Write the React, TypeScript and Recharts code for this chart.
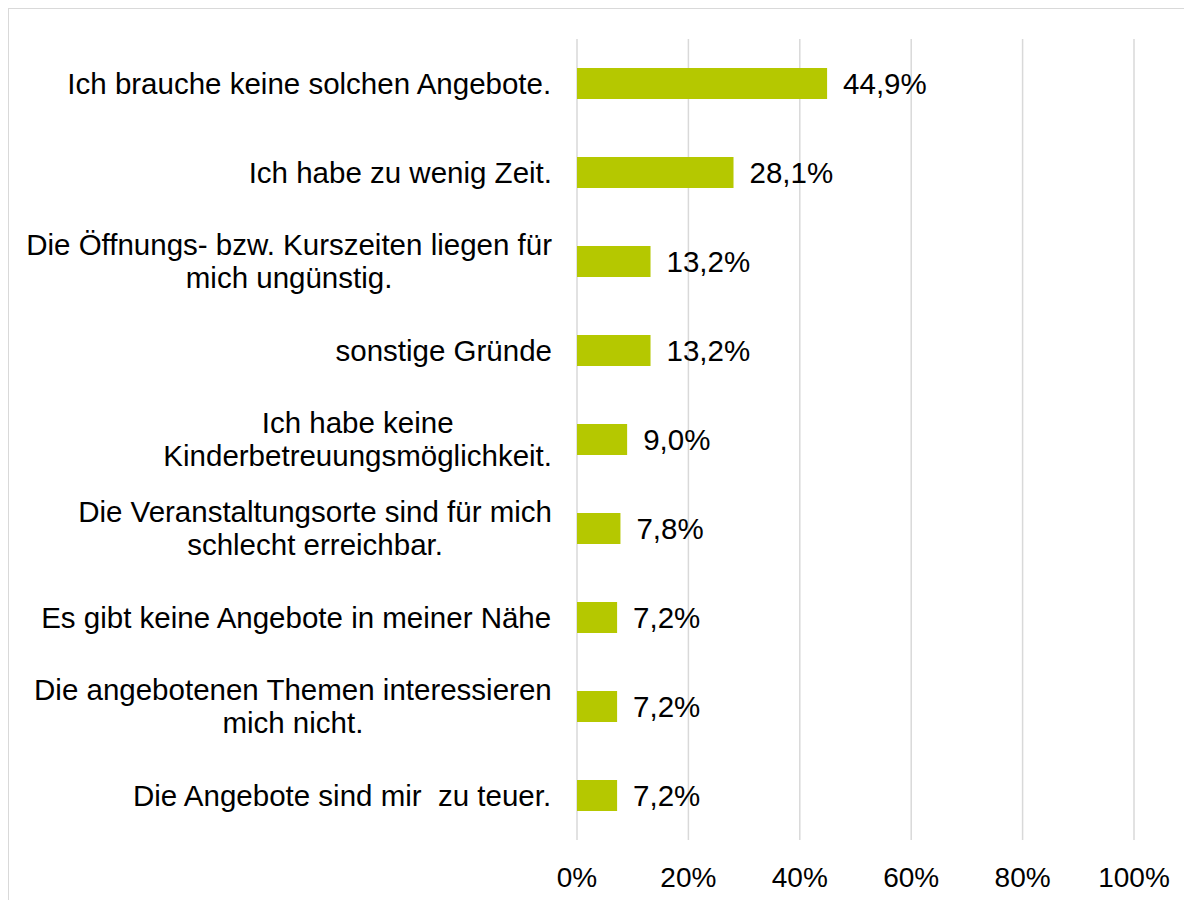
import { BarChart, Bar, XAxis, YAxis, CartesianGrid, LabelList } from "recharts"

const categories = [
  "Ich brauche keine solchen Angebote.",
  "Ich habe zu wenig Zeit.",
  "Die Öffnungs- bzw. Kurszeiten liegen für\nmich ungünstig.",
  "sonstige Gründe",
  "Ich habe keine\nKinderbetreuungsmöglichkeit.",
  "Die Veranstaltungsorte sind für mich\nschlecht erreichbar.",
  "Es gibt keine Angebote in meiner Nähe",
  "Die angebotenen Themen interessieren\nmich nicht.",
  "Die Angebote sind mir  zu teuer.",
]

const shares = [44.9, 28.1, 13.2, 13.2, 9.0, 7.8, 7.2, 7.2, 7.2]

const xTicks = [0, 20, 40, 60, 80, 100]

const FONT = "'Liberation Sans', Arial, sans-serif"
const LABEL_SIZE = 29.5
const TICK_SIZE = 28
const LINE_HEIGHT = 33

const data = categories.map((name, i) => ({ name, value: shares[i] }))

let ctx: CanvasRenderingContext2D | null = null
function textWidth(s: string) {
  if (!ctx) ctx = document.createElement("canvas").getContext("2d")
  if (!ctx) return s.length * LABEL_SIZE * 0.5
  ctx.font = `${LABEL_SIZE}px ${FONT}`
  return ctx.measureText(s).width
}

function CategoryTick({ x, y, payload }: any) {
  const lines = String(payload.value).split("\n")
  const blockW = Math.max(...lines.map(textWidth))
  const cx = x - blockW / 2
  return (
    <g>
      {lines.map((line, i) => (
        <text
          key={i}
          x={cx}
          y={y + (i - (lines.length - 1) / 2) * LINE_HEIGHT}
          dy="0.35em"
          textAnchor="middle"
          fill="#000"
          fontSize={LABEL_SIZE}
          fontFamily={FONT}
          style={{ whiteSpace: "pre" }}
        >
          {line}
        </text>
      ))}
    </g>
  )
}

function PercentTick({ x, y, payload }: any) {
  return (
    <text x={x} y={y} dy="0.71em" textAnchor="middle" fill="#000" fontSize={TICK_SIZE} fontFamily={FONT}>
      {payload.value}%
    </text>
  )
}

const fmt = (v: any) => `${Number(v).toFixed(1).replace(".", ",")}%`

export default function App() {
  return (
    <div style={{ position: "relative", width: 1184, height: 892, overflow: "hidden" }}>
      <div
        style={{
          position: "absolute",
          left: 0,
          top: 0,
          width: 1200,
          height: 910,
          border: "1px solid #d9d9d9",
          boxSizing: "border-box",
        }}
      >
        <BarChart
          width={1183}
          height={891}
          data={data}
          layout="vertical"
          margin={{ top: 30, right: 58, bottom: 0, left: 0 }}
        >
          <CartesianGrid horizontal={false} stroke="#d9d9d9" strokeWidth={1.5} />
          <XAxis
            type="number"
            domain={[0, 100]}
            ticks={xTicks}
            axisLine={false}
            tickLine={false}
            tickSize={0}
            tickMargin={27}
            height={60}
            tick={<PercentTick />}
            interval={0}
          />
          <YAxis
            type="category"
            dataKey="name"
            width={568}
            axisLine={false}
            tickLine={false}
            tickSize={0}
            tickMargin={25}
            tick={<CategoryTick />}
            interval={0}
          />
          <Bar dataKey="value" fill="#b5c800" barSize={31} isAnimationActive={false}>
            <LabelList
              dataKey="value"
              position="right"
              offset={16}
              formatter={fmt}
              fill="#000"
              fontSize={LABEL_SIZE}
              fontFamily={FONT}
            />
          </Bar>
        </BarChart>
      </div>
    </div>
  )
}
